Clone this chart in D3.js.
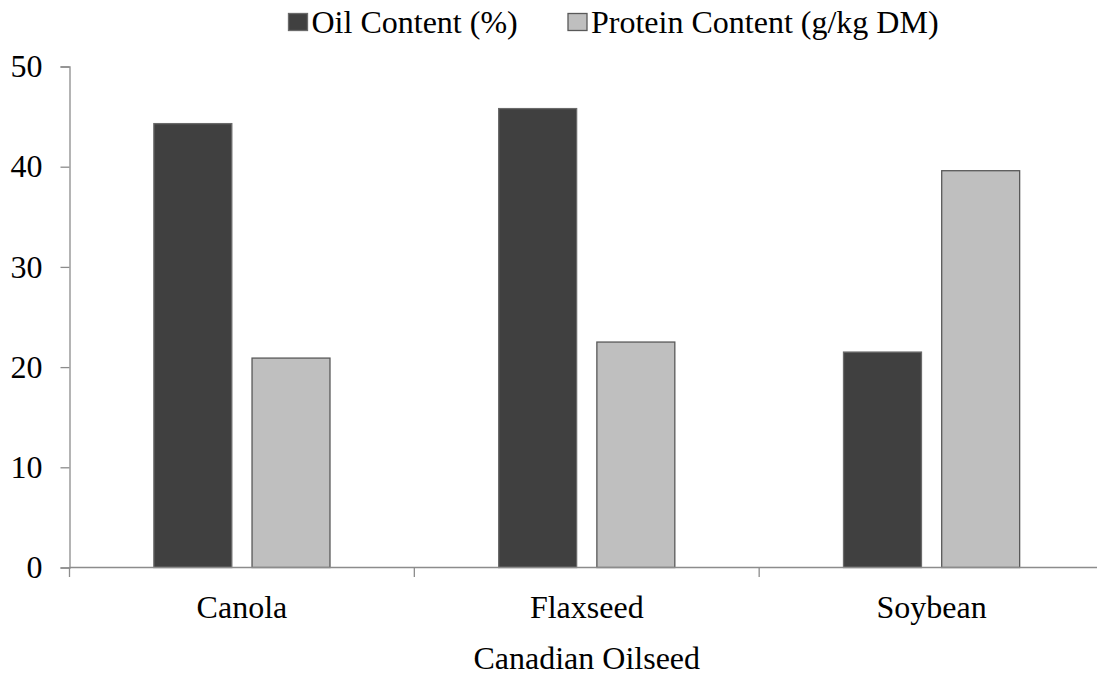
<!DOCTYPE html>
<html>
<head>
<meta charset="utf-8">
<script src="https://cdn.jsdelivr.net/npm/d3@7"></script>
<style>
  html, body { margin: 0; padding: 0; background: #fff; }
  svg { display: block; font-family: "Liberation Serif", "Times New Roman", serif; }
</style>
</head>
<body>
<svg id="chart" width="1097" height="675"></svg>
<script>
const categories = ["Canola", "Flaxseed", "Soybean"];
const seriesNames = ["Oil Content (%)", "Protein Content (g/kg DM)"];
const oilValues = [44.3, 45.8, 21.5];
const proteinValues = [20.9, 22.5, 39.6];
const yTicks = [0, 10, 20, 30, 40, 50];
const xTitle = "Canadian Oilseed";

(function () {
const colors = ["#404040", "#BFBFBF"];
const strokes = ["#6a6a6a", "#595959"];
const fs = "32px";

const svg = d3.select("#chart");
const mLeft = 69.5, mRight = 1104, mTop = 66.5, mBottom = 567.5;

const x0 = d3.scaleBand().domain(categories).range([mLeft, mRight]).paddingInner(0).paddingOuter(0);
const x1 = d3.scaleBand().domain(seriesNames).range([0, x0.bandwidth()]).paddingInner(0.206).paddingOuter(0.859);
const y = d3.scaleLinear().domain([0, 50]).range([mBottom, mTop]);

const data = categories.map((c, i) => ({cat: c, vals: [oilValues[i], proteinValues[i]]}));

// bars
const groups = svg.append("g").selectAll("g").data(data).join("g")
  .attr("transform", d => `translate(${x0(d.cat)},0)`);
groups.selectAll("rect").data(d => d.vals.map((v, k) => ({v, k})))
  .join("rect")
  .attr("x", d => x1(seriesNames[d.k]))
  .attr("width", x1.bandwidth())
  .attr("y", d => y(d.v))
  .attr("height", d => y(0) - y(d.v))
  .attr("fill", d => colors[d.k])
  .attr("stroke", d => strokes[d.k])
  .attr("stroke-width", 1.3);

const axisColor = "#8c8c8c";
// y axis
const yAxis = svg.append("g").attr("transform", `translate(${mLeft},0)`)
  .call(d3.axisLeft(y).tickValues(yTicks).tickSize(9).tickPadding(18));
yAxis.select(".domain").attr("stroke", axisColor).attr("stroke-width", 1.3);
yAxis.selectAll(".tick line").attr("stroke", axisColor).attr("stroke-width", 1.3);
yAxis.selectAll(".tick text").attr("fill", "#000").style("font-size", fs)
  .style("font-family", "'Liberation Serif', serif");

// x axis
const xAxisG = svg.append("g").attr("transform", `translate(0,${mBottom})`);
xAxisG.append("line").attr("x1", mLeft).attr("x2", 1097).attr("y1", 0).attr("y2", 0)
  .attr("stroke", axisColor).attr("stroke-width", 1.3);
const boundaries = categories.map(c => x0(c)).concat([x0(categories[categories.length-1]) + x0.bandwidth()]);
xAxisG.selectAll("line.tk").data(boundaries.filter(b => b <= 1097)).join("line")
  .attr("class", "tk")
  .attr("x1", d => d).attr("x2", d => d).attr("y1", 0).attr("y2", 9.5)
  .attr("stroke", axisColor).attr("stroke-width", 1.3);
xAxisG.selectAll("text").data(categories).join("text")
  .attr("x", d => x0(d) + x0.bandwidth() / 2)
  .attr("y", 50)
  .attr("text-anchor", "middle")
  .style("font-size", fs)
  .text(d => d);

svg.append("text")
  .attr("x", (mLeft + mRight) / 2)
  .attr("y", 669)
  .attr("text-anchor", "middle")
  .style("font-size", fs)
  .text(xTitle);

// legend
const legendX = [288.5, 568];
const lg = svg.append("g").selectAll("g").data(seriesNames).join("g")
  .attr("transform", (d, i) => `translate(${legendX[i]},0)`);
lg.append("rect").attr("x", 0).attr("y", 13.5).attr("width", 19).attr("height", 17)
  .attr("fill", (d, i) => colors[i]).attr("stroke", (d, i) => strokes[i]).attr("stroke-width", 1.3);
lg.append("text").attr("x", 23).attr("y", 33).style("font-size", fs).text(d => d);
})();
</script>
</body>
</html>
